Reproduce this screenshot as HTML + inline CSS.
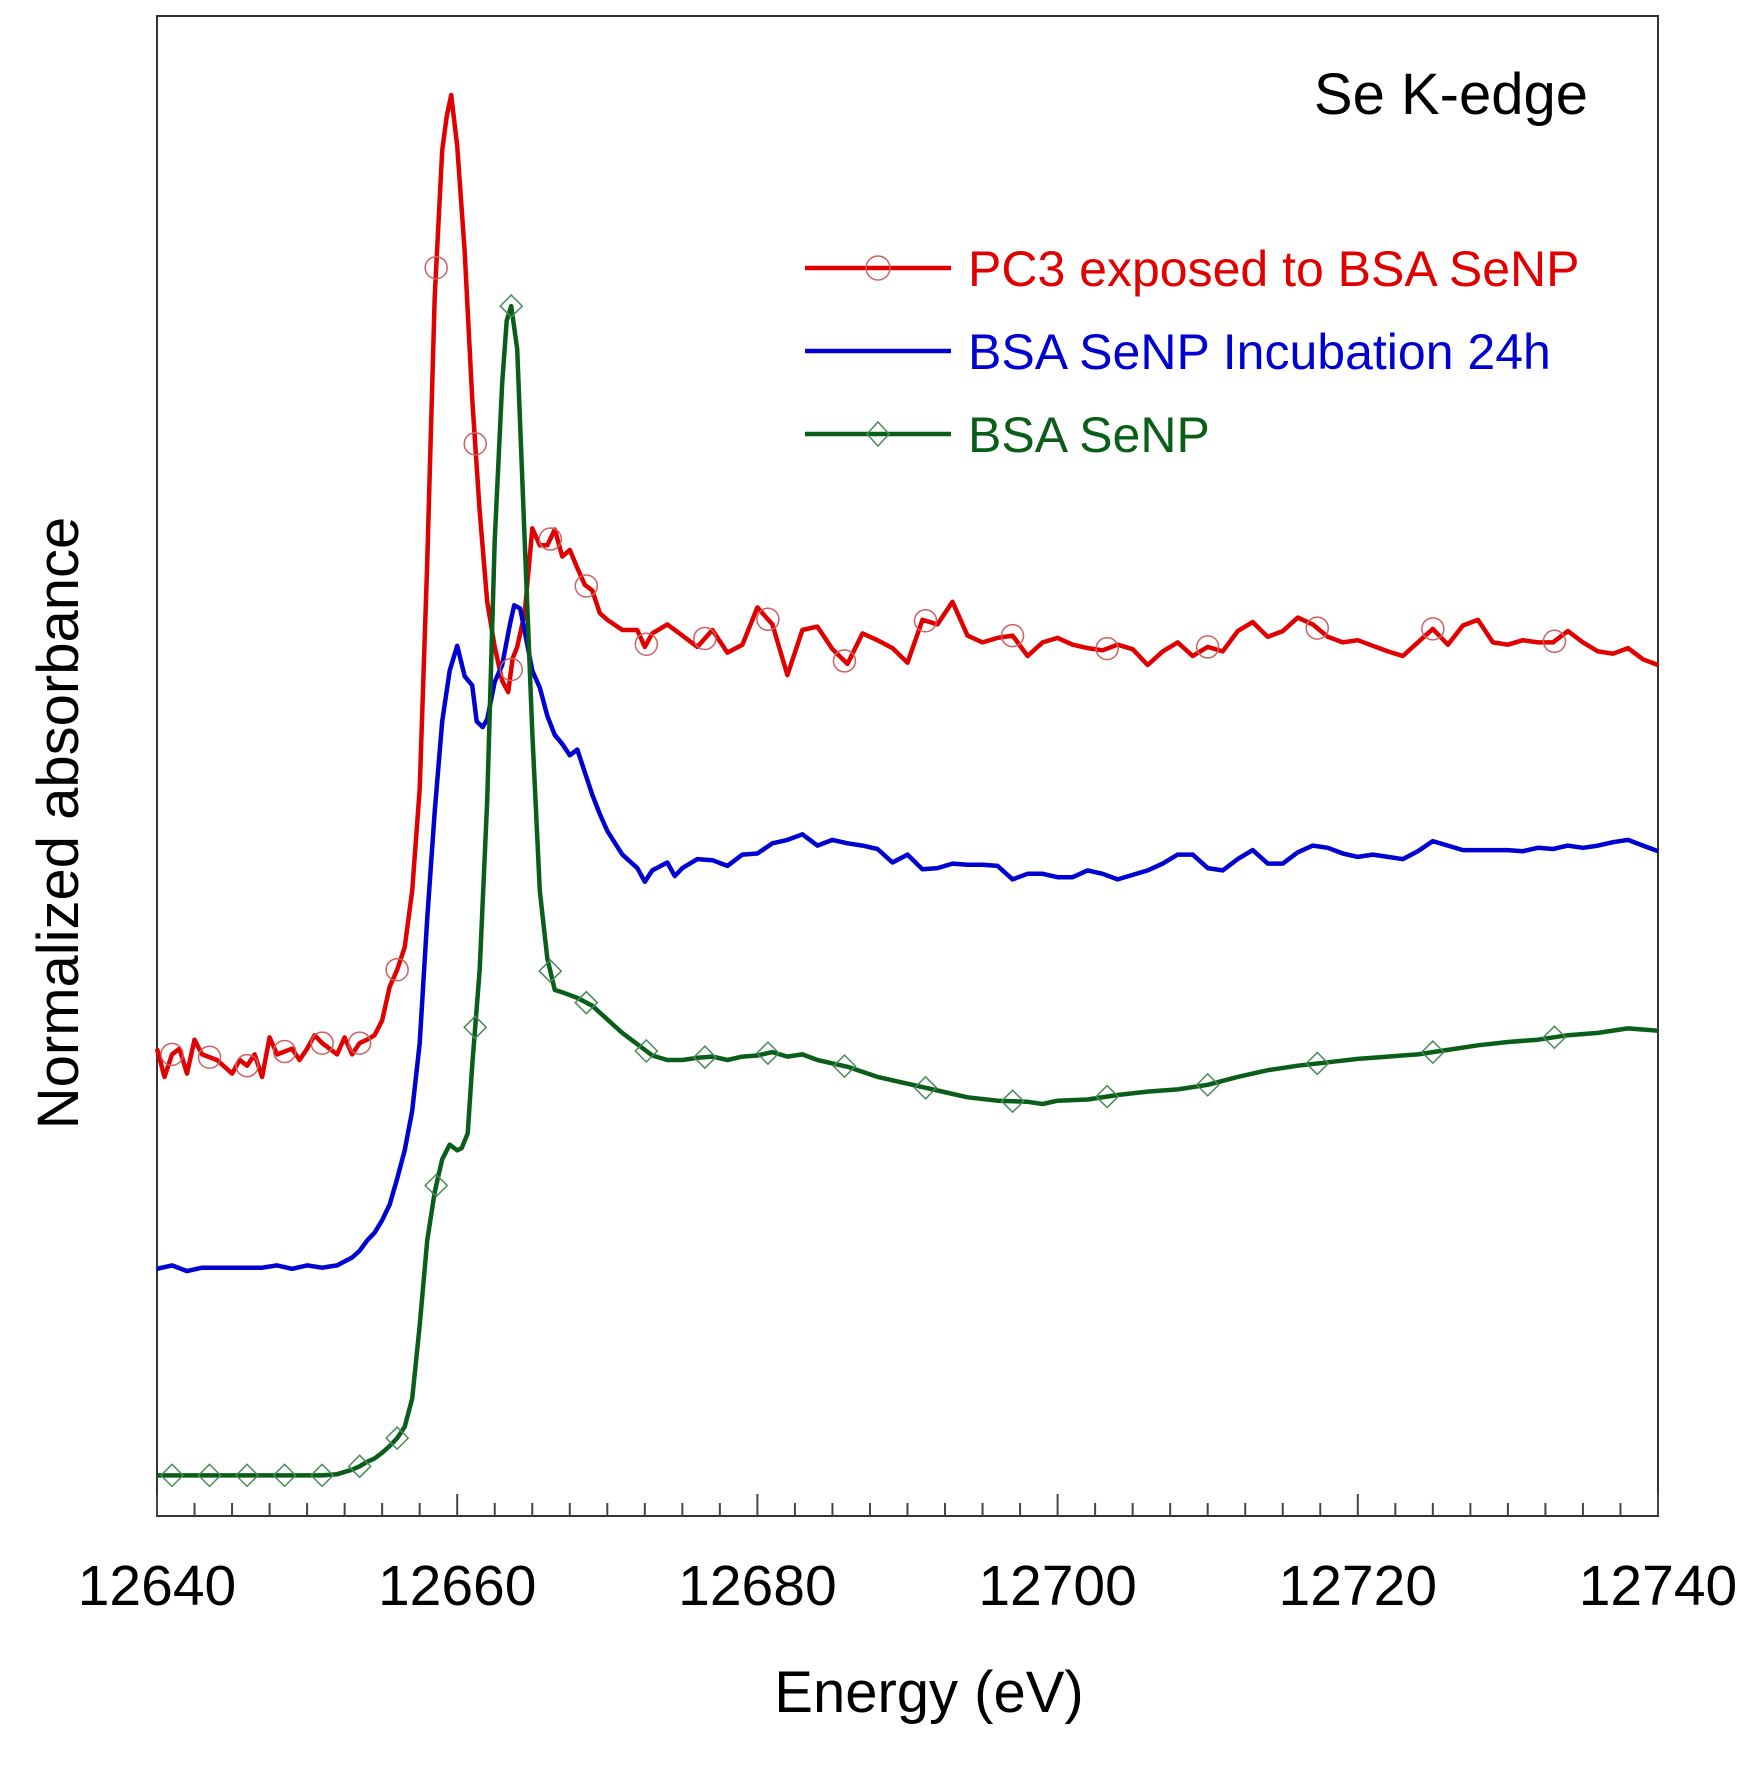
<!DOCTYPE html>
<html><head><meta charset="utf-8"><style>
html,body{margin:0;padding:0;background:#fff}
svg{display:block}
text{font-family:"Liberation Sans",Arial,sans-serif}
</style></head><body>
<svg id="chart" width="1761" height="1767" viewBox="0 0 1761 1767" xmlns="http://www.w3.org/2000/svg">
<rect x="157" y="16" width="1501" height="1500" fill="none" stroke="#333" stroke-width="2"/>
<g id="ticks"></g>
<g id="series"></g>
<text x="1588" y="114" font-size="58" text-anchor="end" fill="#000">Se K-edge</text>
<text x="929" y="1712" font-size="58" text-anchor="middle" fill="#000">Energy (eV)</text>
<text transform="translate(78,823) rotate(-90)" font-size="58" text-anchor="middle" fill="#000">Normalized absorbance</text>
<g>
 <g>
  <line x1="805" y1="268" x2="951" y2="268" stroke="#e00000" stroke-width="4.5"/>
  <circle cx="878" cy="268" r="12" fill="none" stroke="#d06060" stroke-width="1.5"/>
  <text x="968" y="286" font-size="50" fill="#e00000">PC3 exposed to BSA SeNP</text>
 </g>
 <g>
  <line x1="805" y1="351" x2="951" y2="351" stroke="#0000d0" stroke-width="4.5"/>
  <text x="968" y="369" font-size="50" fill="#0000d0">BSA SeNP Incubation 24h</text>
 </g>
 <g>
  <line x1="805" y1="434" x2="951" y2="434" stroke="#0a5e1a" stroke-width="4.5"/>
  <path d="M878 422 L889 434 L878 446 L867 434 Z" fill="none" stroke="#4a8a5a" stroke-width="1.5"/>
  <text x="968" y="452" font-size="50" fill="#0a5e1a">BSA SeNP</text>
 </g>
</g>
</svg>
<script>
const xTickLabels=[12640,12660,12680,12700,12720,12740];
const markerE=[12641,12643.5,12646,12648.5,12651,12653.5,12656,12658.6,12661.2,12663.6,12666.2,12668.6,12672.6,12676.5,12680.7,12685.8,12691.2,12697,12703.3,12710,12717.3,12725,12733.1];
const redE=[12640,12640.5,12641,12641.5,12642,12642.5,12643,12644,12645,12645.5,12646,12646.5,12647,12647.5,12648,12649,12649.5,12650,12650.5,12651,12651.5,12652,12652.5,12653,12653.5,12654,12654.5,12655,12655.5,12656,12656.5,12657,12657.5,12658,12658.5,12659,12659.3,12659.6,12660,12660.5,12661,12661.5,12662,12662.5,12663,12663.4,12663.7,12664,12664.5,12665,12665.5,12666,12666.5,12667,12667.5,12668,12668.5,12669,12669.5,12670,12671,12672,12672.5,12673,12674,12675,12676,12677,12678,12679,12680,12681,12682,12683,12684,12685,12686,12687,12688,12689,12690,12691,12692,12693,12694,12695,12696,12697,12698,12699,12700,12701,12702,12703,12704,12705,12706,12707,12708,12709,12710,12711,12712,12713,12714,12715,12716,12717,12718,12719,12720,12721,12722,12723,12724,12725,12726,12727,12728,12729,12730,12731,12732,12733,12734,12735,12736,12737,12738,12739,12740];
const redV=[.414,.389,.409,.414,.392,.422,.409,.404,.392,.404,.399,.409,.389,.424,.409,.414,.404,.414,.426,.419,.414,.409,.424,.409,.419,.422,.426,.439,.469,.484,.504,.554,.644,.844,1.08,1.21,1.24,1.259,1.214,1.12,.99,.89,.81,.77,.74,.73,.76,.77,.80,.875,.86,.86,.874,.85,.856,.84,.825,.82,.80,.794,.785,.785,.77,.782,.79,.78,.77,.785,.765,.772,.805,.79,.745,.785,.788,.768,.755,.782,.776,.769,.756,.794,.79,.81,.78,.774,.778,.78,.762,.774,.778,.772,.769,.767,.772,.768,.754,.766,.774,.762,.77,.766,.784,.792,.779,.784,.796,.79,.779,.774,.776,.771,.766,.762,.774,.786,.772,.789,.794,.774,.772,.776,.774,.774,.784,.774,.766,.764,.769,.759,.754];
const blueE=[12640,12641,12642,12643,12645,12647,12648,12649,12650,12651,12652,12653,12653.5,12654,12654.5,12655,12655.5,12656,12656.5,12657,12657.5,12658,12658.5,12659,12659.5,12660,12660.5,12661,12661.3,12661.7,12662,12662.5,12663,12663.5,12663.8,12664.2,12664.5,12665,12665.5,12666,12666.5,12667,12667.5,12668,12668.5,12669,12669.5,12670,12671,12672,12672.5,12673,12674,12674.5,12675,12676,12677,12678,12679,12680,12681,12682,12683,12684,12685,12686,12687,12688,12689,12690,12691,12692,12693,12694,12695,12696,12697,12698,12699,12700,12701,12702,12703,12704,12705,12706,12707,12708,12709,12710,12711,12712,12713,12714,12715,12716,12717,12718,12719,12720,12721,12722,12723,12724,12725,12726,12727,12728,12729,12730,12731,12732,12733,12734,12735,12736,12737,12738,12739,12740];
const blueV=[.219,.222,.217,.220,.220,.220,.222,.219,.222,.220,.222,.229,.235,.244,.251,.262,.276,.299,.324,.359,.419,.529,.624,.704,.749,.771,.744,.736,.704,.699,.706,.739,.754,.789,.807,.804,.784,.749,.734,.709,.692,.684,.674,.679,.659,.639,.622,.607,.586,.574,.562,.572,.579,.567,.574,.582,.581,.576,.586,.587,.596,.599,.604,.594,.599,.596,.594,.591,.579,.586,.573,.574,.578,.577,.577,.576,.564,.569,.569,.566,.566,.572,.569,.564,.568,.572,.578,.586,.586,.574,.572,.582,.59,.578,.578,.588,.594,.592,.587,.584,.586,.584,.582,.589,.598,.594,.59,.59,.59,.59,.589,.592,.591,.594,.592,.594,.597,.599,.594,.589];
const greenE=[12640,12650,12651,12652,12653,12653.5,12654,12654.5,12655,12655.5,12656,12656.5,12657,12657.5,12658,12658.5,12659,12659.5,12660,12660.3,12660.7,12661,12661.5,12662,12662.5,12663,12663.3,12663.6,12664,12664.5,12665,12665.5,12666,12666.5,12667,12668,12669,12670,12671,12672,12673,12674,12675,12676,12677,12678,12679,12680,12681,12682,12683,12684,12685,12686,12688,12690,12692,12694,12696,12698,12699,12700,12702,12704,12706,12708,12710,12712,12714,12716,12718,12720,12722,12724,12726,12728,12730,12732,12734,12736,12738,12740];
const greenV=[.036,.036,.036,.037,.041,.044,.048,.051,.056,.062,.069,.079,.104,.169,.244,.287,.316,.329,.324,.326,.339,.399,.484,.634,.864,1.004,1.059,1.072,1.034,.864,.694,.554,.494,.466,.464,.459,.452,.44,.428,.418,.408,.404,.404,.406,.407,.404,.407,.408,.411,.407,.409,.404,.401,.398,.389,.383,.377,.371,.368,.367,.365,.368,.369,.373,.376,.378,.382,.389,.395,.399,.402,.405,.407,.409,.413,.417,.42,.422,.426,.428,.432,.43];

const NS='http://www.w3.org/2000/svg';
const X0=157,X1=1658,Y0=1516,Y1=16;
function xs(e){return X0+(e-12640)/100*(X1-X0);}
function ys(v){return Y0-v/1.329*(Y0-Y1);}
function interp(E,V,e){for(let i=1;i<E.length;i++){if(e<=E[i]){const t=(e-E[i-1])/(E[i]-E[i-1]);return V[i-1]+t*(V[i]-V[i-1]);}}return V[V.length-1];}
const tg=document.getElementById('ticks');
for(let e=12640;e<=12740;e+=2.5){
  const major=(e%20===0);
  const l=document.createElementNS(NS,'line');
  
  
  l.setAttribute('x1',xs(e));l.setAttribute('x2',xs(e));
  l.setAttribute('y1',Y0);l.setAttribute('y2',Y0-(major?22:13));
  l.setAttribute('stroke','#444');l.setAttribute('stroke-width','2');
  tg.appendChild(l);
}
xTickLabels.forEach(t=>{
  const tx=document.createElementNS(NS,'text');
  
  
  tx.setAttribute('x',xs(t));tx.setAttribute('y',1605);
  tx.setAttribute('font-size','57');tx.setAttribute('text-anchor','middle');
  tx.textContent=t;tg.appendChild(tx);
});
const sg=document.getElementById('series');
function drawLine(E,V,color,name){
  const p=document.createElementNS(NS,'polyline');
  
  
  p.setAttribute('points',E.map((e,i)=>xs(e).toFixed(1)+','+ys(V[i]).toFixed(1)).join(' '));
  p.setAttribute('fill','none');p.setAttribute('stroke',color);
  p.setAttribute('stroke-width','4.5');p.setAttribute('stroke-linejoin','round');
  sg.appendChild(p);
}
drawLine(redE,redV,'#e00000','pc3-line');
drawLine(blueE,blueV,'#0000d0','incubation-line');
drawLine(greenE,greenV,'#0a5e1a','bsa-senp-line');
markerE.forEach(e=>{
  const c=document.createElementNS(NS,'circle');
  
  
  c.setAttribute('cx',xs(e));c.setAttribute('cy',ys(interp(redE,redV,e)));
  c.setAttribute('r','11');c.setAttribute('fill','none');
  c.setAttribute('stroke','#d06060');c.setAttribute('stroke-width','1.5');
  sg.appendChild(c);
  const x=xs(e),y=ys(interp(greenE,greenV,e));
  const d=document.createElementNS(NS,'path');
  
  
  d.setAttribute('d',`M${x} ${y-11} L${x+11} ${y} L${x} ${y+11} L${x-11} ${y} Z`);
  d.setAttribute('fill','none');d.setAttribute('stroke','#4a8a5a');d.setAttribute('stroke-width','1.5');
  sg.appendChild(d);
});
</script>
</body></html>
